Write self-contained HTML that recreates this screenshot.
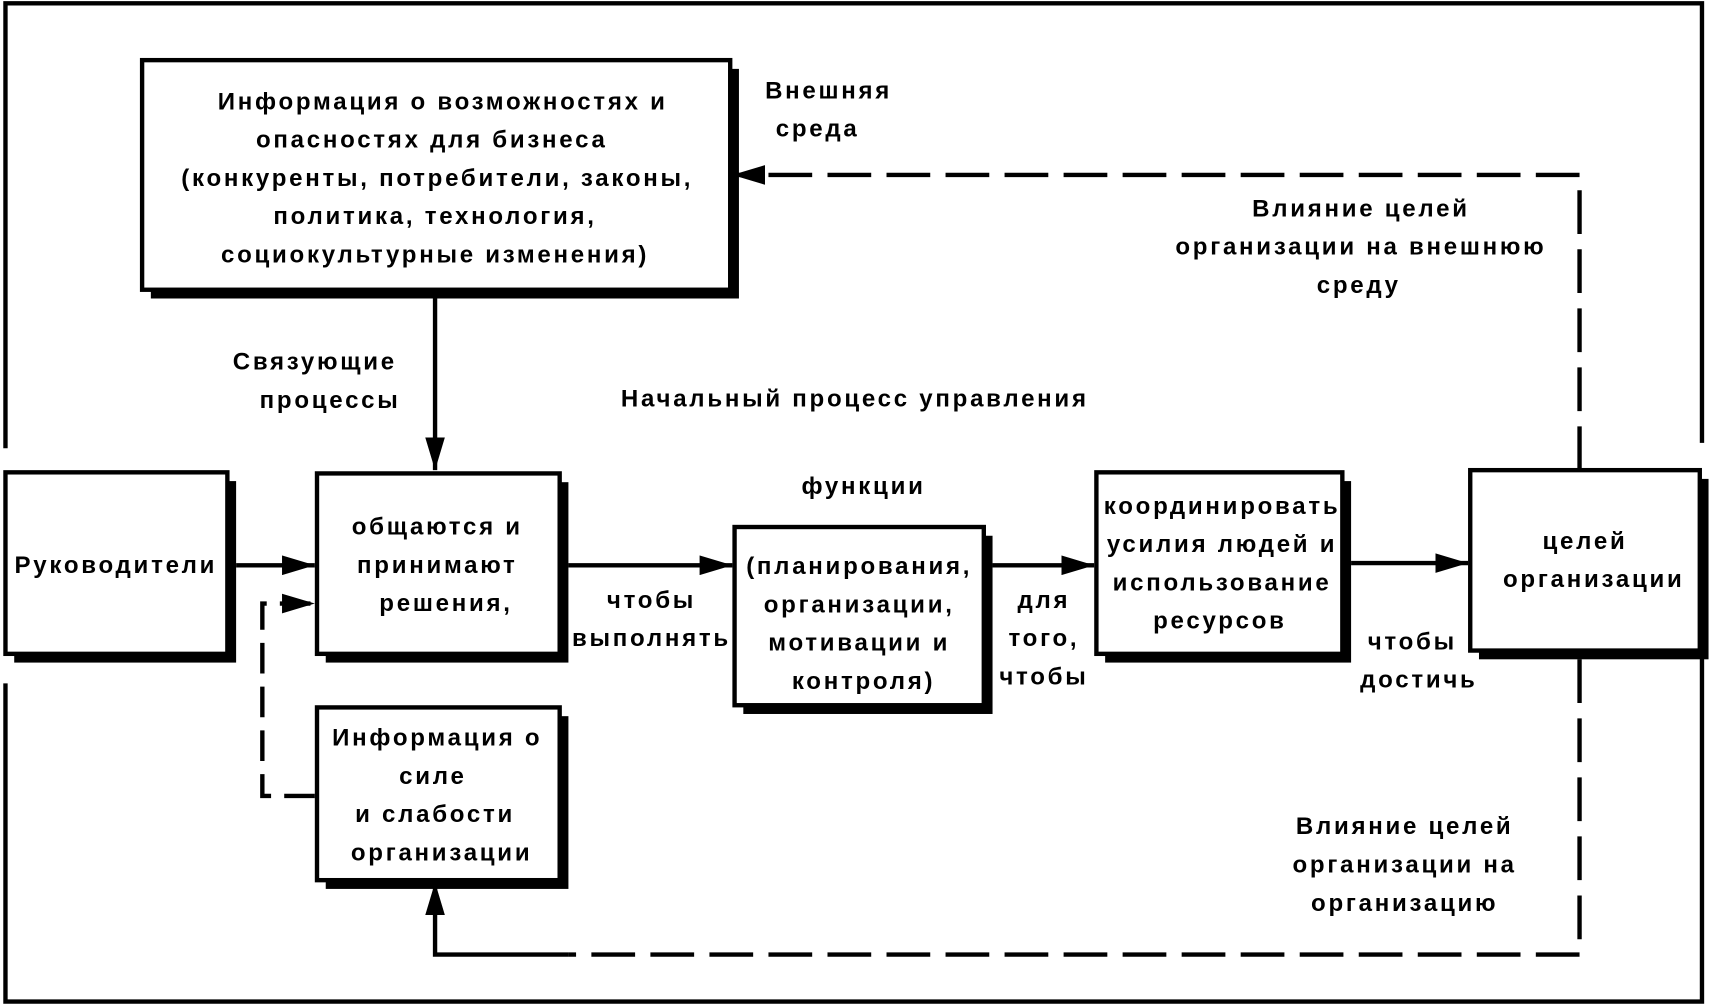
<!DOCTYPE html>
<html><head><meta charset="utf-8"><style>
html,body{margin:0;padding:0;background:#fff;}
svg{display:block;}
text{font-family:"Liberation Sans",sans-serif;font-weight:bold;font-size:22px;fill:#000;text-anchor:middle;letter-spacing:2.5px;}
</style></head><body>
<svg width="1714" height="1007" viewBox="0 0 1568 921" preserveAspectRatio="none" xmlns="http://www.w3.org/2000/svg">
<defs>
<marker id="A" markerWidth="30" markerHeight="18" refX="30" refY="9" orient="auto" markerUnits="userSpaceOnUse"><path d="M0,0 L30,9 L0,18z" fill="#000"/></marker></defs>
<g fill="none" stroke="#000" stroke-width="4">
<path d="M5,410 V3 H1557 V405"/>
<path d="M5,625 V916 H1557 V600"/>
</g>
<g fill="#000">
<rect x="138" y="63" width="538" height="210"/>
<rect x="13" y="440" width="203" height="166"/>
<rect x="298" y="441" width="222" height="165"/>
<rect x="680" y="490" width="228" height="163"/>
<rect x="1011" y="440" width="225" height="166"/>
<rect x="1353" y="438" width="210" height="165"/>
<rect x="298" y="655" width="222" height="158"/>
</g>
<g fill="#fff" stroke="#000" stroke-width="4">
<rect x="130" y="55" width="538" height="210"/>
<rect x="5" y="432" width="203" height="166"/>
<rect x="290" y="433" width="222" height="165"/>
<rect x="672" y="482" width="228" height="163"/>
<rect x="1003" y="432" width="225" height="166"/>
<rect x="1345" y="430" width="210" height="165"/>
<rect x="290" y="647" width="222" height="158"/>
</g>
<g fill="none" stroke="#000" stroke-width="4">
<path d="M398,273 V430" marker-end="url(#A)"/>
<path d="M216,517 H288" marker-end="url(#A)"/>
<path d="M520,517 H670" marker-end="url(#A)"/>
<path d="M908,517 H1001" marker-end="url(#A)"/>
<path d="M1236,515 H1343" marker-end="url(#A)"/>
<path d="M288,728 H240 V552 H288" stroke-dasharray="28,12" marker-end="url(#A)"/>
<path d="M1445,430 V160 H670" stroke-dasharray="40,14" marker-end="url(#A)"/>
<path d="M1445,603 V873 H520" stroke-dasharray="40,14"/>
<path d="M520,873 H398 V807" marker-end="url(#A)"/>
</g>
<text x="405" y="100">Информация о возможностях и</text>
<text x="395" y="135">опасностях для бизнеса</text>
<text x="400" y="170">(конкуренты, потребители, законы,</text>
<text x="398" y="205">политика, технология,</text>
<text x="398" y="240">социокультурные изменения)</text>
<text x="758" y="90">Внешняя</text>
<text x="748" y="125">среда</text>
<text x="1245" y="198">Влияние целей</text>
<text x="1245" y="233">организации на внешнюю</text>
<text x="1243" y="268">среду</text>
<text x="288" y="338">Связующие</text>
<text x="302" y="373">процессы</text>
<text x="782" y="372">Начальный процесс управления</text>
<text x="790" y="452">функции</text>
<text x="106" y="524">Руководители</text>
<text x="400" y="489">общаются и</text>
<text x="400" y="524">принимают</text>
<text x="408" y="559">решения,</text>
<text x="596" y="556">чтобы</text>
<text x="596" y="591">выполнять</text>
<text x="786" y="525">(планирования,</text>
<text x="786" y="560">организации,</text>
<text x="786" y="595">мотивации и</text>
<text x="790" y="630">контроля)</text>
<text x="955" y="556">для</text>
<text x="955" y="591">того,</text>
<text x="955" y="626">чтобы</text>
<text x="1118" y="470">координировать</text>
<text x="1118" y="505">усилия людей и</text>
<text x="1118" y="540">использование</text>
<text x="1116" y="575">ресурсов</text>
<text x="1292" y="594">чтобы</text>
<text x="1298" y="629">достичь</text>
<text x="1450" y="502">целей</text>
<text x="1458" y="537">организации</text>
<text x="400" y="682">Информация о</text>
<text x="396" y="717">силе</text>
<text x="398" y="752">и слабости</text>
<text x="404" y="787">организации</text>
<text x="1285" y="763">Влияние целей</text>
<text x="1285" y="798">организации на</text>
<text x="1285" y="833">организацию</text>
</svg>
</body></html>
